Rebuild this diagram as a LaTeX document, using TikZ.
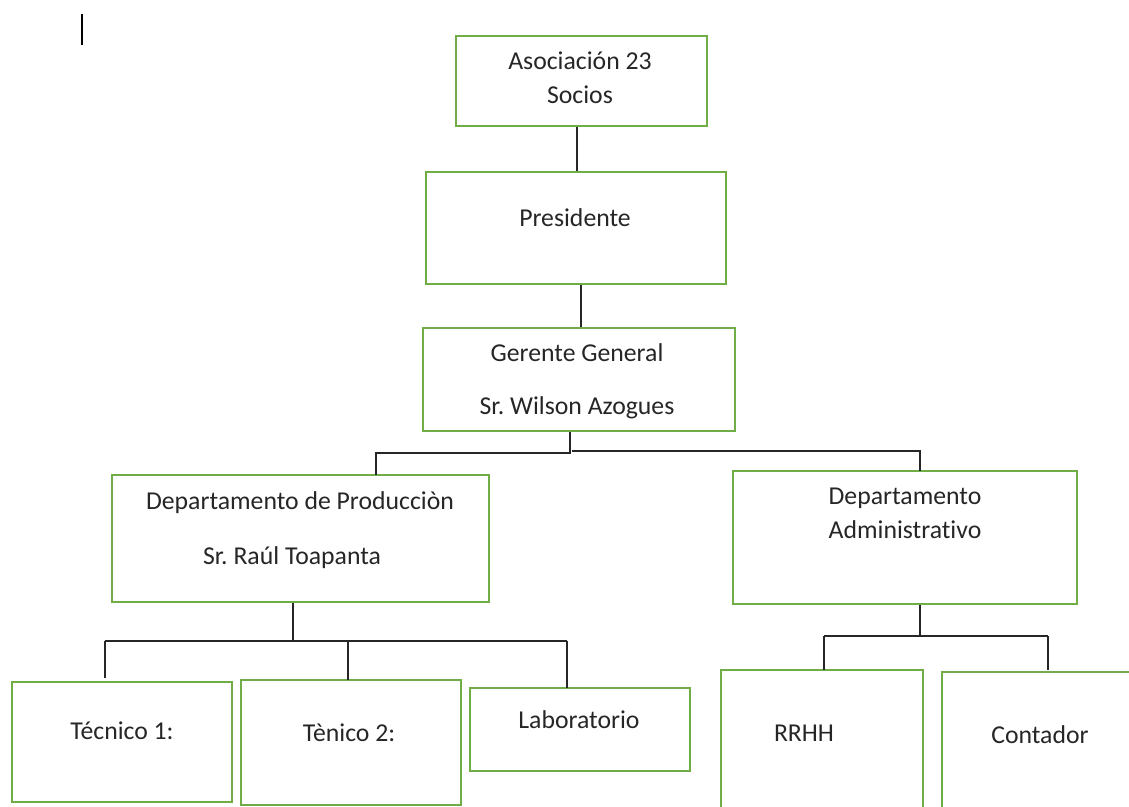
\documentclass[tikz,border=0pt]{standalone}
\usepackage{fontspec}
\setmainfont{Carlito}[Ligatures={NoCommon}]
\frenchspacing
\definecolor{boxgreen}{HTML}{70AD47}
\definecolor{linkgray}{HTML}{262626}
\begin{document}
\begin{tikzpicture}[x=0.75pt,y=-0.75pt,
  box/.style={draw=boxgreen,line width=1.5pt,inner sep=0pt},
  lbl/.style={anchor=mid,inner sep=0pt,yshift=-4pt,font=\fontsize{19.3}{23}\selectfont,text=black!85},
  link/.style={draw=linkgray,line width=1.1pt}]
\useasboundingbox (0,0) rectangle (1129,807);

% text cursor mark
\draw[line width=1.5pt] (82,14) -- (82,45);

% boxes
\node[box,minimum width=188.25pt,minimum height=67.5pt] (soc)  at (581.5,81)   {};
\node[box,minimum width=225pt,minimum height=84pt]      (pres) at (576,228)    {};
\node[box,minimum width=234pt,minimum height=77.25pt]   (ger)  at (579,379.5)  {};
\node[box,minimum width=282.75pt,minimum height=95.25pt](prod) at (300.5,538.5){};
\node[box,minimum width=258pt,minimum height=99.75pt]   (adm)  at (905,537.5)  {};
\node[box,minimum width=165pt,minimum height=90pt]      (tec1) at (122,742)    {};
\node[box,minimum width=165pt,minimum height=93.75pt]   (tec2) at (351,742.5)  {};
\node[box,minimum width=165pt,minimum height=62.25pt]   (lab)  at (580,729.5)  {};
\node[box,minimum width=151.5pt,minimum height=106.5pt] (rrhh) at (822,741)    {};
\node[box,minimum width=148.5pt,minimum height=105pt]   (cont) at (1041,742)   {};

% labels
\node[lbl] (socA)  at (580,61)  {Asociación 23};
\node[lbl] (socB)  at (580,95)  {Socios};
\node[lbl] (presA) at (575,218) {Presidente};
\node[lbl] (gerA)  at (577,353) {Gerente General};
\node[lbl] (gerB)  at (577,406) {Sr. Wilson Azogues};
\node[lbl] (prodA) at (300,501) {Departamento de Producciòn};
\node[lbl] (prodB) at (292,556) {Sr. Raúl Toapanta};
\node[lbl] (admA)  at (905,496) {Departamento};
\node[lbl] (admB)  at (905,530) {Administrativo};
\node[lbl] (tec1A) at (122,731) {Técnico 1:};
\node[lbl] (tec2A) at (349,733) {Tènico 2:};
\node[lbl] (labA)  at (579,720) {Laboratorio};
\node[lbl] (rrhhA) at (804,733) {RRHH};
\node[lbl] (contA) at (1040,735){Contador};

% junction points
\coordinate (sP) at (577,0);
\coordinate (pG) at (581,0);
\coordinate (gJ) at (570,453);
\coordinate (gR) at (572,451);
\coordinate (dP) at (376,475);
\coordinate (dA) at (920,471);
\coordinate (pJ) at (293,641);
\coordinate (pL) at (105,641);
\coordinate (d1) at (105,678);
\coordinate (d2) at (348,680);
\coordinate (d3) at (567,688);
\coordinate (aJ) at (920,636);
\coordinate (d4) at (824,670);
\coordinate (d5) at (1048,670);

% connectors
\draw[link] (sP |- soc.south) -- (sP |- pres.north);
\draw[link] (pG |- pres.south) -- (pG |- ger.north);
\draw[link] (gJ |- ger.south) -- (gJ) -- (dP |- gJ) -- (dP);
\draw[link] (gR) -- (dA |- gR) -- (dA);
\draw[link] (pJ |- prod.south) -- (pJ);
\draw[link] (pL) -- (d3 |- pL);
\draw[link] (d1 |- pL) -- (d1);
\draw[link] (d2 |- pL) -- (d2);
\draw[link] (d3 |- pL) -- (d3);
\draw[link] (aJ |- adm.south) -- (aJ);
\draw[link] (d4 |- aJ) -- (d5 |- aJ);
\draw[link] (d4 |- aJ) -- (d4);
\draw[link] (d5 |- aJ) -- (d5);
\end{tikzpicture}
\end{document}
